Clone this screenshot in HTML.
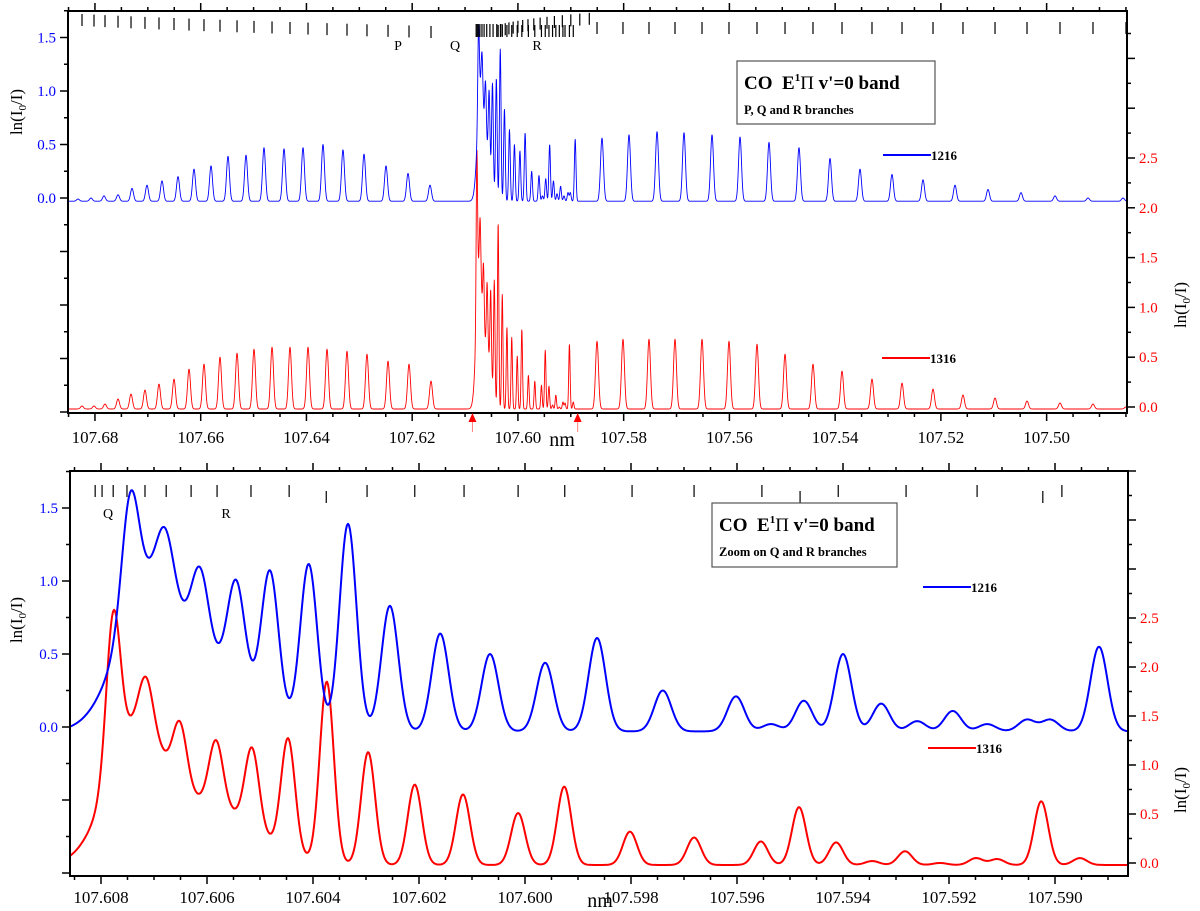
<!DOCTYPE html>
<html><head><meta charset="utf-8"><style>
html,body{margin:0;padding:0;background:#fff;}
svg{display:block;font-family:"Liberation Serif",serif;}
</style></head><body>
<svg id="chart" width="1200" height="911" viewBox="0 0 1200 911" xmlns="http://www.w3.org/2000/svg">
<defs>
<clipPath id="clipTop"><rect x="68" y="11" width="1059" height="402"/></clipPath>
<clipPath id="clipBot"><rect x="70" y="471" width="1058" height="405"/></clipPath>
</defs>
<rect x="0" y="0" width="1200" height="911" fill="#fff"/>
<g id="topPanel"></g>
<g id="botPanel"></g>
</svg>
<script>
// ---------- data (wavelength nm, absorbance) ----------
const blueCenters = [107.60711,107.60585,
 107.60745,107.60679,107.60613,107.60545,107.60481,107.60408,107.60334,107.60255,107.60160,107.60066,107.59962,107.59864,107.59740,107.59602,107.59536,107.59474,107.59400,107.59328,107.59260,107.59193,107.59128,107.59053,107.59009,107.58917,
 107.68321,107.68075,107.67829,107.67564,107.67299,107.67016,107.66732,107.66429,107.66127,107.65805,107.65484,107.65143,107.64803,107.64424,107.64065,107.63687,107.63309,107.62911,107.62495,107.62079,107.61663,
 107.58410,107.57899,107.57369,107.56859,107.56329,107.55799,107.55251,107.54684,107.54097,107.53530,107.52925,107.52338,107.51733,107.51109,107.50485,107.49841,107.49217,107.48555];
const blueHeights = [0.95,0.42,
 0.80,0.39,0.52,0.66,0.94,1.12,1.42,0.86,0.67,0.53,0.47,0.64,0.28,0.24,0.05,0.21,0.53,0.19,0.07,0.14,0.05,0.08,0.08,0.58,
 0.02,0.03,0.05,0.06,0.12,0.15,0.19,0.23,0.30,0.33,0.42,0.43,0.50,0.49,0.50,0.53,0.48,0.44,0.33,0.26,0.15,
 0.59,0.62,0.65,0.64,0.62,0.60,0.55,0.50,0.40,0.30,0.25,0.20,0.15,0.11,0.08,0.05,0.03,0.03];
const blueWidths = [0.000566,0.000755];
const blueBase = -0.03;

const redCenters = [107.60736,107.60594,
 107.60777,107.60715,107.60651,107.60583,107.60515,107.60447,107.60374,107.60296,107.60208,107.60117,107.60013,107.59926,107.59802,107.59681,107.59555,107.59483,107.59413,107.59345,107.59283,107.59217,107.59149,107.59109,107.59026,107.58953,
 107.68245,107.68018,107.67810,107.67564,107.67318,107.67054,107.66789,107.66505,107.66221,107.65938,107.65635,107.65313,107.64992,107.64651,107.64311,107.63970,107.63611,107.63233,107.62855,107.62457,107.62060,107.61644,
 107.58504,107.58013,107.57521,107.57029,107.56518,107.56008,107.55478,107.54948,107.54419,107.53870,107.53303,107.52735,107.52149,107.51582,107.50976,107.50371,107.49747,107.49123,107.48499];
const redHeights = [1.30,0.60,
 1.57,0.50,0.63,0.66,0.81,1.16,1.85,1.15,0.82,0.72,0.53,0.80,0.34,0.28,0.24,0.59,0.23,0.04,0.14,0.02,0.07,0.06,0.65,0.07,
 0.03,0.03,0.05,0.10,0.15,0.19,0.25,0.30,0.40,0.45,0.52,0.56,0.60,0.62,0.62,0.62,0.60,0.58,0.55,0.48,0.45,0.28,
 0.68,0.70,0.70,0.70,0.70,0.68,0.65,0.55,0.45,0.38,0.30,0.26,0.20,0.14,0.11,0.08,0.06,0.05,0.02];
const redWidths = [0.000528,0.000849];
const redBase = -0.02;

const topXTicks = ["107.68","107.66","107.64","107.62","107.60","107.58","107.56","107.54","107.52","107.50"];
const botXTicks = ["107.608","107.606","107.604","107.602","107.600","107.598","107.596","107.594","107.592","107.590"];
const leftTickLabels = ["0.0","0.5","1.0","1.5"];
const rightTickLabels = ["0.0","0.5","1.0","1.5","2.0","2.5"];

const qSticks = [107.6079,107.6077,107.6075,107.6072,107.6068,107.6064,107.6059,107.6053,107.6047,107.6040,107.6033];
const rUpperSticks = [107.6030,107.6024,107.6017,107.6009,107.6000,107.5991,107.5981,107.5970,107.5958,107.5945,107.5931,107.5916,107.5900,107.5883,107.5865];
const botSticks = [107.60811,107.60798,107.60777,107.60751,107.60717,107.60677,107.60630,107.60581,107.60517,107.60445,107.60375,107.60298,107.60208,107.60115,107.60013,107.59925,107.59798,107.59681,107.59553,107.59481,107.59409,107.59281,107.59147,107.59023,107.58987];
const botStickLow = [0,0,0,0,0,0,0,0,0,0,1,0,0,0,0,0,0,0,0,1,0,0,0,1,0];

// ---------- scales ----------
const NS="http://www.w3.org/2000/svg";
function xTop(nm){return 68+(107.6851-nm)*5287;}
function xBot(nm){return 101+(107.608-nm)*53000;}
function yTB(v){return 198-107*v;}
function yTR(v){return 407-99.6*v;}
function yBB(v){return 727-146*v;}
function yBR(v){return 863-98*v;}
function nmTop(x){return 107.6851-(x-68)/5287;}
function nmBot(x){return 107.608-(x-101)/53000;}

function spec(nm, C, H, Wd, base, narrow){
  let s=base;
  for(let i=0;i<C.length;i++){
    let w;
    if(i<Wd.length) w=Wd[i];
    else if(i<26) w=narrow;
    else w=0.00028;
    const d=nm-C[i];
    if(Math.abs(d)>w*6) continue;
    s+=H[i]*Math.exp(-d*d/(2*w*w));
  }
  return s;
}
function mk(tag,attrs,parent){
  const e=document.createElementNS(NS,tag);
  for(const k in attrs) e.setAttribute(k,attrs[k]);
  parent.appendChild(e);
  return e;
}
function txt(s,attrs,parent){const t=mk('text',attrs,parent);t.textContent=s;return t;}

const topG=document.getElementById('topPanel');
const botG=document.getElementById('botPanel');

function drawSpectrum(parent, clip, x0, x1, step, nmOf, yOf, C,H,Wd,base,narrow,color,sw,name){
  let d='';
  for(let x=x0;x<=x1;x+=step){
    const v=spec(nmOf(x),C,H,Wd,base,narrow);
    d+=(d?'L':'M')+x.toFixed(2)+','+yOf(v).toFixed(2);
  }
  const p=mk('path',{d:d,fill:'none',stroke:color,'stroke-width':sw,'clip-path':'url(#'+clip+')','stroke-linejoin':'round'},parent);
  
  
}
drawSpectrum(topG,'clipTop',68,1127,0.25,nmTop,yTR,redCenters,redHeights,redWidths,redBase,0.00013,'#ff0000',0.9,'red-1316-spectrum-top');
drawSpectrum(topG,'clipTop',68,1127,0.25,nmTop,yTB,blueCenters,blueHeights,blueWidths,blueBase,0.00015,'#0000ff',0.9,'blue-1216-spectrum-top');
drawSpectrum(botG,'clipBot',70,1128,1,nmBot,yBR,redCenters,redHeights,redWidths,redBase,0.000132,'#ff0000',2,'red-1316-spectrum-bottom');
drawSpectrum(botG,'clipBot',70,1128,1,nmBot,yBB,blueCenters,blueHeights,blueWidths,blueBase,0.00016,'#0000ff',2,'blue-1216-spectrum-bottom');

// ---------- axes ----------
function frame(parent,x0,y0,x1,y1,name){
  const r=mk('rect',{x:x0,y:y0,width:x1-x0,height:y1-y0,fill:'none',stroke:'#000','stroke-width':2},parent);
  
  
}
frame(topG,68,11,1127,413,'top-plot-frame');
frame(botG,70,471,1128,876,'bottom-plot-frame');

function xAxis(parent,xOf,nmOf,x0,x1,yT,yB,labels,minStep,majStep,labelY,name){
  const start=nmOf(x1), end=nmOf(x0);
  const n0=Math.ceil(start/minStep-1e-6), n1=Math.floor(end/minStep+1e-6);
  for(let k=n0;k<=n1;k++){
    const nm=k*minStep;
    const x=xOf(nm);
    if(x<x0-0.5||x>x1+0.5) continue;
    const r=nm/majStep;
    const isMaj=Math.abs(Math.round(r)-r)<0.05;
    const L=isMaj?8:4;
    const a=mk('line',{x1:x,y1:yB,x2:x,y2:yB+L,stroke:'#000','stroke-width':1.5},parent);
    
    
    const b=mk('line',{x1:x,y1:yT,x2:x,y2:yT-L,stroke:'#000','stroke-width':1.5},parent);
    
    
  }
  labels.forEach(function(s){
    const x=xOf(parseFloat(s));
    const t=txt(s,{x:x,y:labelY,'text-anchor':'middle','font-size':17,fill:'#000'},parent);
    
    
  });
}
xAxis(topG,xTop,nmTop,68,1127,11,413,topXTicks,0.005,0.02,443,'top-x-axis');
xAxis(botG,xBot,nmBot,70,1128,471,876,botXTicks,0.0005,0.002,903,'bottom-x-axis');

function yAxis(parent,yOf,yT,yB,xAx,side,labels,color,name){
  for(let k=-20;k<=20;k++){
    const v=k*0.25;
    const y=yOf(v);
    if(y<yT-0.5||y>yB+0.5) continue;
    const L=(k%2===0)?8:4;
    const l=mk('line',{x1:xAx,y1:y,x2:xAx+side*L,y2:y,stroke:'#000','stroke-width':1.5},parent);
    
    
  }
  labels.forEach(function(s){
    const y=yOf(parseFloat(s));
    const t=txt(s,{x:xAx+side*12,y:y+5,'text-anchor':side<0?'end':'start','font-size':15,fill:color},parent);
    
    
  });
}
yAxis(topG,yTB,11,413,68,-1,leftTickLabels,'#0000ff','top-left-y-axis');
yAxis(topG,yTR,11,413,1127,1,rightTickLabels,'#ff0000','top-right-y-axis');
yAxis(botG,yBB,471,876,70,-1,leftTickLabels,'#0000ff','bottom-left-y-axis');
yAxis(botG,yBR,471,876,1128,1,rightTickLabels,'#ff0000','bottom-right-y-axis');

function ytitle(parent,x,y,rot,name){
  const t=mk('text',{x:0,y:0,transform:'translate('+x+','+y+') rotate('+rot+')','text-anchor':'middle','font-size':17,fill:'#000'},parent);
  t.innerHTML='ln(I<tspan font-size="11" dy="4">0</tspan><tspan dy="-4">/I)</tspan>';
  
  
}
ytitle(topG,22,112,-90,'top-left-y-axis-title');
ytitle(topG,1186,305,-90,'top-right-y-axis-title');
ytitle(botG,22,620,-90,'bottom-left-y-axis-title');
ytitle(botG,1186,790,-90,'bottom-right-y-axis-title');
let t1=txt('nm',{x:562,y:446,'text-anchor':'middle','font-size':20,fill:'#000'},topG);


let t2=txt('nm',{x:600,y:907,'text-anchor':'middle','font-size':20,fill:'#000'},botG);



// ---------- assignment sticks ----------
function stick(parent,x,y1,y2,name){
  const l=mk('line',{x1:x,y1:y1,x2:x,y2:y2,stroke:'#000','stroke-width':1.2},parent);
  
  
}
for(let i=26;i<48;i++){
  const x=xTop(redCenters[i]);
  const f=(i-26)/21;
  stick(topG,x,14+f*12,26+f*12,'p-branch-stick');
}
qSticks.forEach(function(nm){stick(topG,xTop(nm),24,37,'q-branch-stick');});
rUpperSticks.forEach(function(nm,i){const y=24-i*0.8;stick(topG,xTop(nm),y,y+12,'r-branch-stick');});
for(let i=48;i<redCenters.length;i++){
  stick(topG,xTop(redCenters[i]),22,34,'r-branch-stick');
}
for(let i=2;i<26;i++){
  const x=xTop(redCenters[i]);
  if(x>497) stick(topG,x,25,37,'r-branch-stick');
}
botSticks.forEach(function(nm,i){
  const y=botStickLow[i]?491:485;
  stick(botG,xBot(nm),y,y+12,'bottom-line-stick');
});
[['P',398,50],['Q',455,50],['R',537,50]].forEach(function(a){
  const t=txt(a[0],{x:a[1],y:a[2],'text-anchor':'middle','font-size':14,fill:'#000'},topG);
  
  
});
[['Q',108,518],['R',226,518]].forEach(function(a){
  const t=txt(a[0],{x:a[1],y:a[2],'text-anchor':'middle','font-size':14,fill:'#000'},botG);
  
  
});

[107.6086,107.5887].forEach(function(nm){
  const x=xTop(nm);
  const a=mk('path',{d:'M'+x+',413 L'+(x-4)+',422 L'+(x+4)+',422 Z',fill:'#ff0000'},topG);
  
  
  const l=mk('line',{x1:x,y1:422,x2:x,y2:432,stroke:'#ff8080','stroke-width':1},topG);
  
  
});

// ---------- legends ----------
function infoBox(parent,x,y,w,h,sub,name){
  const r=mk('rect',{x:x,y:y,width:w,height:h,fill:'#fff',stroke:'#555','stroke-width':1.2},parent);
  
  
  const t=mk('text',{x:x+7,y:y+28,'font-size':19,'font-weight':'bold',fill:'#000'},parent);
  t.innerHTML='CO&#160;&#160;E<tspan font-size="11" dy="-8">1</tspan><tspan dy="8" font-weight="normal">&#928;</tspan> v\'=0 band';
  
  
  const s=txt(sub,{x:x+7,y:y+53,'font-size':12.5,'font-weight':'bold',fill:'#000'},parent);
  
  
}
infoBox(topG,737,61,198,63,'P, Q and R branches','top-title-box');
infoBox(botG,712,503,185,64,'Zoom on Q and R branches','bottom-title-box');

function legend(parent,x,y,color,label,name){
  const l=mk('line',{x1:x,y1:y,x2:x+48,y2:y,stroke:color,'stroke-width':2},parent);
  
  
  const t=txt(label,{x:x+48,y:y+5,'font-size':13,'font-weight':'bold',fill:'#000'},parent);
  
  
}
legend(topG,883,155,'#0000ff','1216','top-legend-1216');
legend(topG,882,358,'#ff0000','1316','top-legend-1316');
legend(botG,923,587,'#0000ff','1216','bottom-legend-1216');
legend(botG,928,748,'#ff0000','1316','bottom-legend-1316');
</script>
</body></html>
